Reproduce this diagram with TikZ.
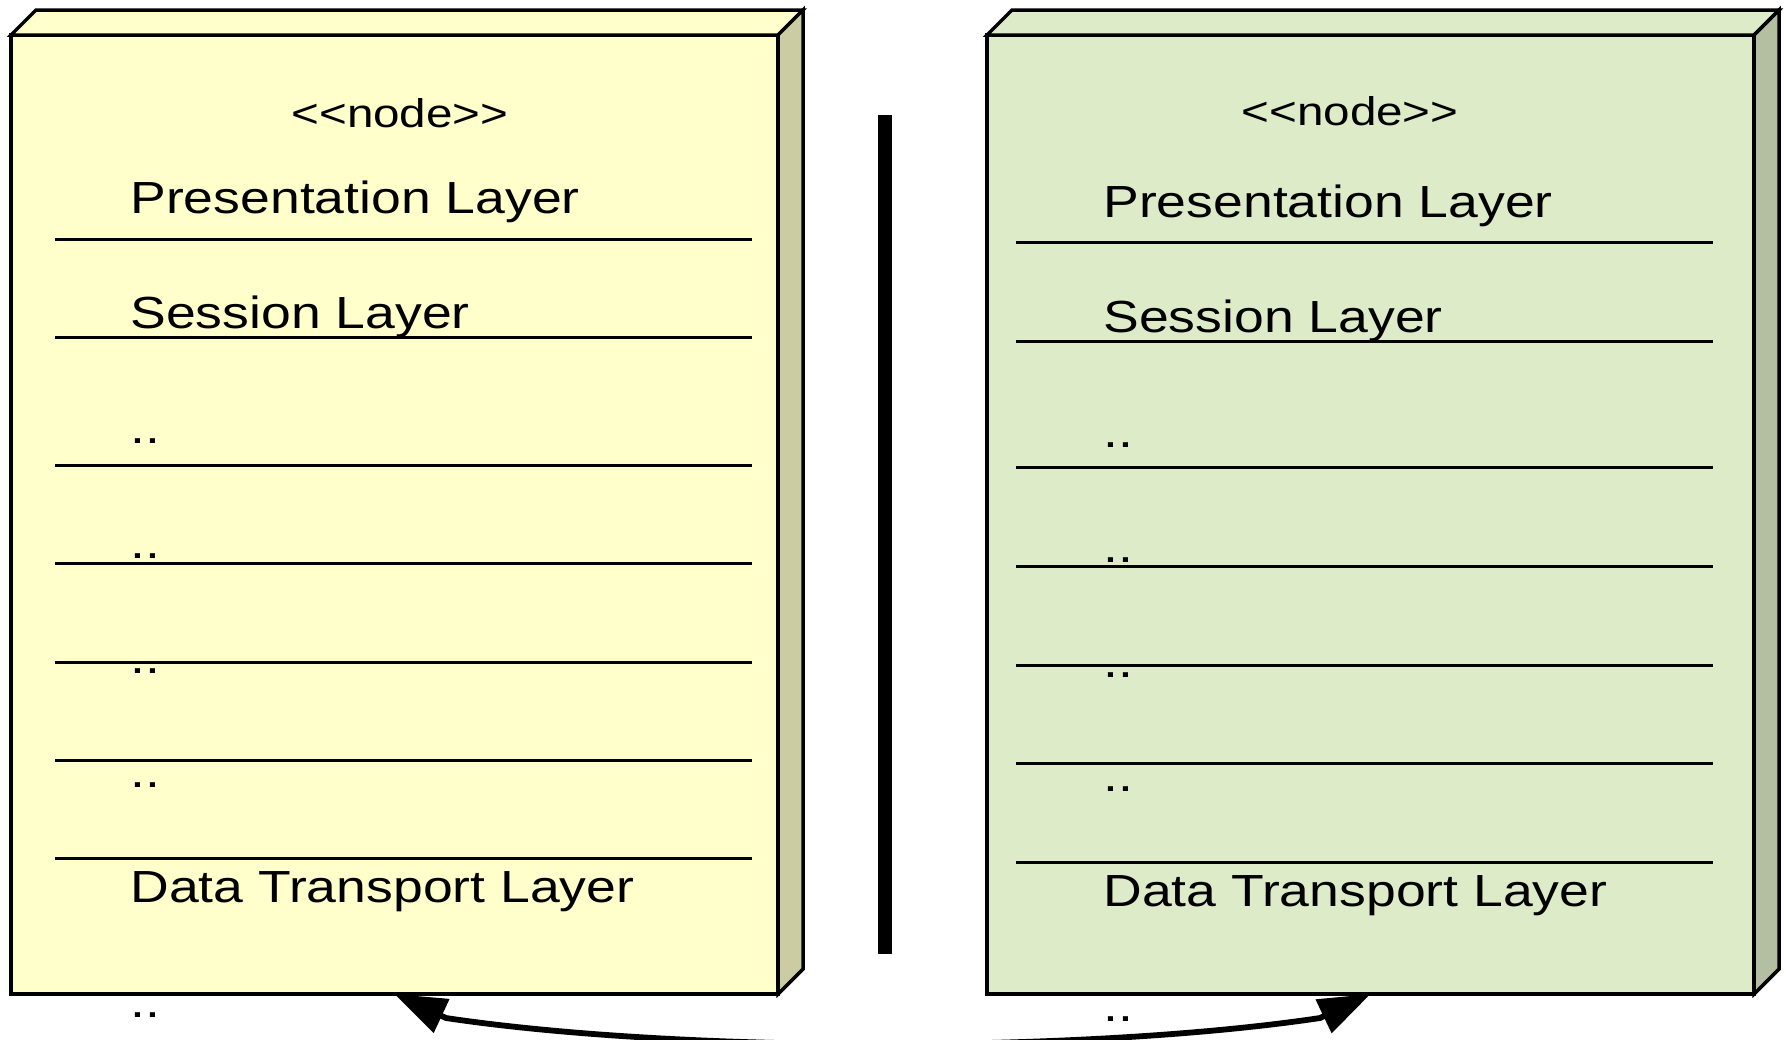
\documentclass[tikz,border=0pt]{standalone}
\usepackage{fontspec}
\setmainfont{Liberation Sans}
\newfontfamily\lyrfont{Liberation Sans}[FakeStretch=1.19]
\usetikzlibrary{arrows.meta}
\definecolor{yfront}{HTML}{FFFFCC}
\definecolor{yside}{HTML}{CCCCA3}
\definecolor{gfront}{HTML}{DEEBC9}
\definecolor{gside}{HTML}{B3BFA0}
\begin{document}
\begin{tikzpicture}[x=0.5pt,y=-0.5pt,
  box/.style={draw, line width=1.75pt, minimum width=383.5pt, minimum height=479.5pt, inner sep=0pt, outer sep=0pt},
  face/.style={draw, line width=1.75pt, line join=miter},
  sepline/.style={line width=1.5pt},
  layer/.style={anchor=base west, inner sep=0pt, font=\lyrfont\fontsize{22.5pt}{27pt}\selectfont},
  stereo/.style={anchor=base, inner sep=0pt, font=\lyrfont\fontsize{20pt}{24pt}\selectfont},
  conn/.style={line width=2.9pt, {Triangle[length=26pt,width=18pt]}-{Triangle[length=26pt,width=18pt]}}
]
\useasboundingbox (0,0) rectangle (1786,1039);
\clip (0,0) rectangle (1786,1039);

% left box
\node[box, fill=yfront] (L) at (394.5,514.5) {};
\filldraw[face, fill=yfront] (L.north west) -- ([shift={(25,-25)}]L.north west) -- ([shift={(25,-25)}]L.north east) -- (L.north east) -- cycle;
\filldraw[face, fill=yside] (L.north east) -- ([shift={(25,-25)}]L.north east) -- ([shift={(25,-25)}]L.south east) -- (L.south east) -- cycle;

% right box
\node[box, fill=gfront] (R) at (1370.5,514.5) {};
\filldraw[face, fill=gfront] (R.north west) -- ([shift={(25,-25)}]R.north west) -- ([shift={(25,-25)}]R.north east) -- (R.north east) -- cycle;
\filldraw[face, fill=gside] (R.north east) -- ([shift={(25,-25)}]R.north east) -- ([shift={(25,-25)}]R.south east) -- (R.south east) -- cycle;

% separator lines
\foreach \y in {239,337,465,563,662,760,858}
  \draw[sepline] (55,\y) -- (752,\y);
\foreach \y in {242,341,467,566,665,763,862}
  \draw[sepline] (1016,\y) -- (1713,\y);

% middle bar
\fill (878,115) rectangle (892,954);

% left texts
\node[stereo] (Ls) at (400,127.6) {<\kern0pt<node>\kern0pt>};
\node[layer] (L1) at (130,213) {Presentation Layer};
\node[layer] (L2) at (130,328) {Session Layer};
\node[layer] (L3) at (130,443) {..};
\node[layer] (L4) at (130,558) {..};
\node[layer] (L5) at (130,673) {..};
\node[layer] (L6) at (130,787) {..};
\node[layer] (L7) at (130,902) {Data Transport Layer};
\node[layer] (L8) at (130,1017) {..};

% right texts
\node[stereo] (Rs) at (1350,125) {<\kern0pt<node>\kern0pt>};
\node[layer] (R1) at (1103,217) {Presentation Layer};
\node[layer] (R2) at (1103,332) {Session Layer};
\node[layer] (R3) at (1103,447) {..};
\node[layer] (R4) at (1103,562) {..};
\node[layer] (R5) at (1103,677) {..};
\node[layer] (R6) at (1103,791) {..};
\node[layer] (R7) at (1103,906) {Data Transport Layer};
\node[layer] (R8) at (1103,1021) {..};

% connector
\coordinate (ca) at (446,1018);
\coordinate (cb) at (1320,1018);
\draw[conn] (L.south) -- (ca) .. controls (680,1053) and (1086,1053) .. (cb) -- (R.south);
\end{tikzpicture}
\end{document}
